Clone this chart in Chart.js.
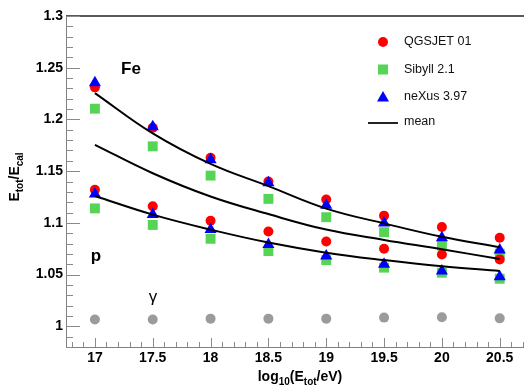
<!DOCTYPE html>
<html>
<head>
<meta charset="utf-8">
<script src="https://cdn.jsdelivr.net/npm/chart.js@4.4.1/dist/chart.umd.min.js"></script>
<style>
  html, body { margin: 0; padding: 0; background: #fff; overflow: hidden; }
</style>
</head>
<body>
<canvas id="ratioChart" width="531" height="386"></canvas>
<script>
// log10(E/eV) bins
const energies = [17, 17.5, 18, 18.5, 19, 19.5, 20, 20.5];

const qgsjetFe = [1.231, 1.192, 1.163, 1.140, 1.1226, 1.107, 1.096, 1.0856];
const qgsjetP = [1.132, 1.116, 1.102, 1.0917, 1.082, 1.075, 1.0695, 1.0647];
const sibyllFe = [1.2104, 1.174, 1.1457, 1.1232, 1.1055, 1.091, 1.078, 1.0702];
const sibyllP = [1.114, 1.098, 1.0846, 1.0727, 1.064, 1.0567, 1.0518, 1.046];
const nexusFe = [1.2355, 1.193, 1.161, 1.1387, 1.1171, 1.100, 1.0856, 1.0737];
const nexusP = [1.128, 1.108, 1.0936, 1.079, 1.068, 1.060, 1.0534, 1.048];
const gamma = [1.0065, 1.0065, 1.0074, 1.0074, 1.0074, 1.0084, 1.0087, 1.0077];

const meanFe = [1.2255, 1.1865, 1.157, 1.1355, 1.1138, 1.0995, 1.0865, 1.0765];
const meanMid = [1.1755, 1.148, 1.1255, 1.1085, 1.0935, 1.0835, 1.0745, 1.065];
const meanP = [1.126, 1.108, 1.0935, 1.081, 1.0712, 1.064, 1.058, 1.0535];

const xTicks = [17, 17.5, 18, 18.5, 19, 19.5, 20, 20.5];
const yTicks = [1, 1.05, 1.1, 1.15, 1.2, 1.25, 1.3];

const RED = '#ff0000';
const GREEN = '#55d455';
const BLUE = '#0000ff';
const GREY = '#9b9b9b';
const FONT = "'Liberation Sans', Arial, Helvetica, sans-serif";

function pts(vals) {
    return vals.map((v, i) => ({ x: energies[i], y: v }));
}

function markers(vals, color, style, radius, order) {
    return {
        data: pts(vals),
        pointStyle: style,
        pointRadius: radius,
        backgroundColor: color,
        borderColor: color,
        borderWidth: 0,
        showLine: false,
        order: order
    };
}

function meanLine(vals) {
    return {
        data: pts(vals),
        showLine: true,
        pointRadius: 0,
        borderColor: '#000',
        borderWidth: 2,
        tension: 0.4,
        fill: false,
        order: 0
    };
}

// ticks, frame, labels, legend
const decorations = {
    id: 'decorations',
    afterDraw(chart) {
        const ctx = chart.ctx;
        const { left, right, top, bottom } = chart.chartArea;
        const x = chart.scales.x, y = chart.scales.y;
        ctx.save();

        // frame
        ctx.strokeStyle = '#222';
        ctx.lineWidth = 1.5;
        ctx.beginPath();
        ctx.moveTo(left, top);
        ctx.lineTo(right, top);
        ctx.stroke();
        ctx.strokeStyle = '#808080';
        ctx.lineWidth = 1;
        ctx.beginPath();
        ctx.moveTo(left + 0.5, top);
        ctx.lineTo(left + 0.5, bottom);
        ctx.moveTo(left, bottom + 0.5);
        ctx.lineTo(right, bottom + 0.5);
        ctx.stroke();

        // inward ticks
        ctx.strokeStyle = '#8a8a8a';
        ctx.beginPath();
        for (let k = 98; k <= 130; k++) {
            const py = Math.round(y.getPixelForValue(k / 100)) + 0.5;
            const len = k % 5 === 0 ? 14 : 7;
            ctx.moveTo(left, py);
            ctx.lineTo(left + len, py);
        }
        for (let k = 168; k <= 207; k++) {
            const px = Math.round(x.getPixelForValue(k / 10)) + 0.5;
            const len = k % 5 === 0 ? 9 : 5;
            ctx.moveTo(px, bottom);
            ctx.lineTo(px, bottom - len);
        }
        ctx.stroke();

        // axis titles with subscripts
        ctx.fillStyle = '#000';
        ctx.textBaseline = 'alphabetic';
        function subText(parts, x0, y0, align) {
            let w = 0;
            parts.forEach(p => {
                ctx.font = p.sub ? 'bold 10px ' + FONT : 'bold 14px ' + FONT;
                w += ctx.measureText(p.t).width;
            });
            let cx = align === 'center' ? x0 - w / 2 : x0;
            parts.forEach(p => {
                ctx.font = p.sub ? 'bold 10px ' + FONT : 'bold 14px ' + FONT;
                ctx.textAlign = 'left';
                ctx.fillText(p.t, cx, p.sub ? y0 + 4 : y0);
                cx += ctx.measureText(p.t).width;
            });
        }
        subText([{ t: 'log' }, { t: '10', sub: true }, { t: '(E' }, { t: 'tot', sub: true }, { t: '/eV)' }], 300, 381, 'center');
        ctx.save();
        ctx.translate(19, 177);
        ctx.rotate(-Math.PI / 2);
        subText([{ t: 'E' }, { t: 'tot', sub: true }, { t: '/E' }, { t: 'cal', sub: true }], 0, 0, 'center');
        ctx.restore();

        // labels in plot
        ctx.textAlign = 'center';
        ctx.textBaseline = 'middle';
        ctx.font = 'bold 17px ' + FONT;
        ctx.fillText('Fe', 131, 69);
        ctx.fillText('p', 96, 256);
        ctx.font = '17px ' + FONT;
        ctx.fillText('\u03b3', 153, 297);

        // legend
        const lx = 383;
        ctx.fillStyle = RED;
        ctx.beginPath();
        ctx.arc(lx, 42, 5, 0, Math.PI * 2);
        ctx.fill();
        ctx.fillStyle = GREEN;
        ctx.fillRect(lx - 5, 64.5, 10, 10);
        ctx.fillStyle = BLUE;
        ctx.beginPath();
        ctx.moveTo(lx, 91);
        ctx.lineTo(lx + 6, 101.5);
        ctx.lineTo(lx - 6, 101.5);
        ctx.closePath();
        ctx.fill();
        ctx.strokeStyle = '#222';
        ctx.lineWidth = 2;
        ctx.beginPath();
        ctx.moveTo(368, 123);
        ctx.lineTo(398, 123);
        ctx.stroke();

        ctx.fillStyle = '#111';
        ctx.font = '12.5px ' + FONT;
        ctx.textAlign = 'left';
        ctx.textBaseline = 'middle';
        ctx.fillText('QGSJET 01', 404, 42);
        ctx.fillText('Sibyll 2.1', 404, 69.5);
        ctx.fillText('neXus 3.97', 404, 96.5);
        ctx.fillText('mean', 404, 122);
        ctx.restore();
    }
};

const ctx = document.getElementById('ratioChart').getContext('2d');
const ratioChart = new Chart(ctx, {
    type: 'scatter',
    data: {
        datasets: [
            meanLine(meanFe),
            meanLine(meanMid),
            meanLine(meanP),
            markers(nexusFe, BLUE, 'triangle', 7, 1),
            markers(nexusP, BLUE, 'triangle', 7, 1),
            markers(qgsjetFe, RED, 'circle', 5, 2),
            markers(qgsjetP, RED, 'circle', 5, 2),
            markers(sibyllFe, GREEN, 'rect', 7, 3),
            markers(sibyllP, GREEN, 'rect', 7, 3),
            markers(gamma, GREY, 'circle', 5, 4)
        ]
    },
    options: {
        responsive: false,
        animation: false,
        layout: { padding: { top: 16, right: 0, left: 0, bottom: 0 } },
        plugins: {
            legend: { display: false },
            tooltip: { enabled: false }
        },
        scales: {
            x: {
                type: 'linear',
                min: 16.75,
                max: 20.71,
                grid: { display: false, drawTicks: false },
                border: { display: false },
                afterBuildTicks: (s) => { s.ticks = xTicks.map(v => ({ value: v })); },
                afterFit: (s) => { s.height = 39; },
                ticks: {
                    color: '#000',
                    padding: 3,
                    maxRotation: 0,
                    autoSkip: false,
                    font: { family: FONT, size: 14, weight: 'bold' },
                    callback: (v) => String(v)
                }
            },
            y: {
                min: 0.98,
                max: 1.3,
                grid: { display: false, drawTicks: false },
                border: { display: false },
                afterBuildTicks: (s) => { s.ticks = yTicks.map(v => ({ value: v })); },
                afterFit: (s) => { s.width = 66; },
                ticks: {
                    color: '#000',
                    padding: 3,
                    autoSkip: false,
                    font: { family: FONT, size: 14, weight: 'bold' },
                    callback: (v) => String(v)
                }
            }
        }
    },
    plugins: [decorations]
});
</script>
</body>
</html>
